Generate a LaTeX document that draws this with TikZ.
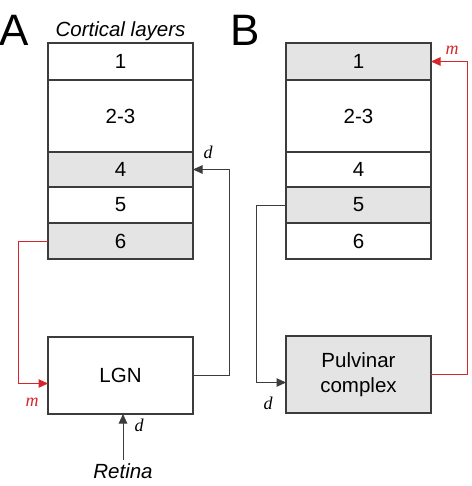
\documentclass[tikz,border=0pt]{standalone}
\usepackage{fontspec}
\setmainfont{Liberation Sans}
\newfontfamily\lblfont{Liberation Serif}
\usetikzlibrary{positioning,arrows.meta}
\definecolor{layergray}{HTML}{E4E4E4}
\definecolor{linegray}{HTML}{3C3C3C}
\definecolor{mred}{HTML}{D7262B}

\begin{document}
\begin{tikzpicture}[
    x=1pt, y=-1pt,
    node distance=0pt,
    layer/.style={draw=linegray, line width=1.2pt, minimum width=145pt, outer sep=0pt, inner sep=0pt, font=\fontsize{20.5}{22}\selectfont},
    shaded/.style={fill=layergray},
    nucleus/.style={layer, minimum height=77pt, align=center, font=\fontsize{20.5}{24.5}\selectfont},
    arrow/.style={-{Triangle[length=9.5pt,width=8.5pt]}, line width=1pt, color=linegray},
    marrow/.style={arrow, color=mred},
    lbl/.style={font=\lblfont\itshape\fontsize{18}{18}\selectfont},
    panel/.style={font=\fontsize{44}{44}\selectfont, inner sep=0pt},
]
\useasboundingbox (0,0) rectangle (471,486);

% panel A
\node[panel] (pA) at (14,30) {A};
\node[layer, minimum height=37pt] (A1) at (120.5,61.5) {1};
\node[layer, minimum height=72pt, below=of A1] (A23) {2-3};
\node[layer, shaded, minimum height=35pt, below=of A23] (A4) {4};
\node[layer, minimum height=36pt, below=of A4] (A5) {5};
\node[layer, shaded, minimum height=36pt, below=of A5] (A6) {6};
\node[above=-1.5pt of A1, font=\itshape\fontsize{20.5}{22}\selectfont] (ctx) {Cortical layers};
\node[nucleus] (lgn) at (120.5,375.5) {LGN};
\node[font=\itshape\fontsize{20.5}{22}\selectfont] (retina) at (123,471) {Retina};

\draw[arrow] (lgn.east) -- ++(36,0) |- (A4.east);
\draw[marrow] (A6.west) -- ++(-30,0) |- ([yshift=-8pt]lgn.west);
\draw[arrow] (retina.north) -- (retina.north |- lgn.south);
\node[lbl] (dA4) at ([shift={(15,-17)}]A4.east) {d};
\node[lbl, text=mred] (mA) at ([shift={(-16,26.5)}]lgn.west) {m};
\node[lbl] (dret) at ([shift={(18.5,11)}]lgn.south) {d};

% panel B
\node[panel] (pB) at (245,30) {B};
\node[layer, shaded, minimum height=37pt] (B1) at (358.5,61.5) {1};
\node[layer, minimum height=72pt, below=of B1] (B23) {2-3};
\node[layer, minimum height=35pt, below=of B23] (B4) {4};
\node[layer, shaded, minimum height=36pt, below=of B4] (B5) {5};
\node[layer, minimum height=36pt, below=of B5] (B6) {6};
\node[nucleus, shaded] (pulv) at (358.5,374.5) {Pulvinar\\complex};

\draw[arrow] (B5.west) -- ++(-30,0) |- ([yshift=-8pt]pulv.west);
\draw[marrow] (pulv.east) -- ++(36,0) |- (B1.east);
\node[lbl, text=mred] (mB) at ([shift={(21,-11)}]B1.east) {m};
\node[lbl] (dB) at ([shift={(-18,28.5)}]pulv.west) {d};
\end{tikzpicture}
\end{document}
